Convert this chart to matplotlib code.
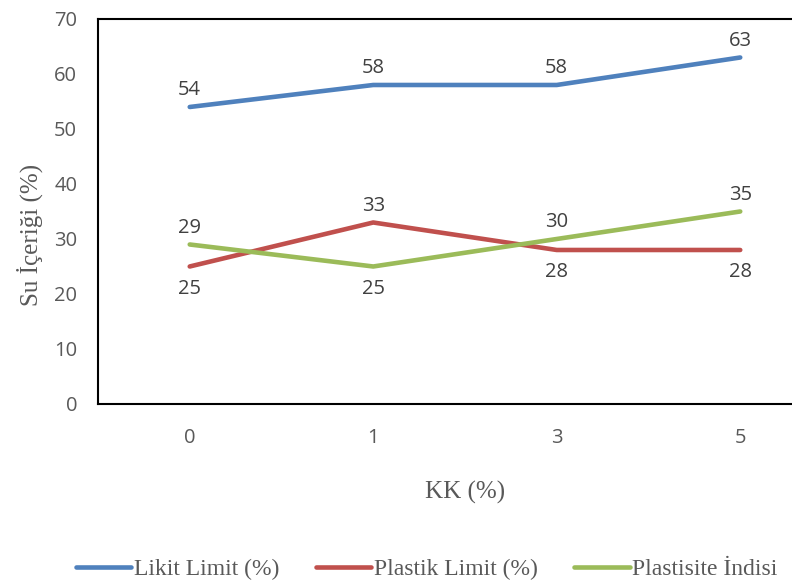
import matplotlib.pyplot as plt

# Veriler
kk = ['0', '1', '3', '5']
likit_limit = [54, 58, 58, 63]
plastik_limit = [25, 33, 28, 28]
plastisite_indisi = [29, 25, 30, 35]

# Etiket konumu: 1 = üstte, -1 = altta
likit_pos = [1, 1, 1, 1]
plastik_pos = [-1, 1, -1, -1]
plastisite_pos = [1, -1, 1, 1]

renkler = ['#4F81BD', '#C0504D', '#9BBB59']
sans = ['Open Sans', 'DejaVu Sans']
serif = ['Liberation Serif', 'DejaVu Serif']

fig = plt.figure(figsize=(7.92, 5.86), dpi=100)
ax = fig.add_axes([0.1237, 0.3106, 0.9268, 0.657])

x = list(range(len(kk)))
seriler = [
    ('Likit Limit (%)', likit_limit, likit_pos),
    ('Plastik Limit (%)', plastik_limit, plastik_pos),
    ('Plastisite İndisi', plastisite_indisi, plastisite_pos),
]
for (ad, degerler, konum), renk in zip(seriler, renkler):
    ax.plot(x, degerler, color=renk, lw=3.3, solid_capstyle='round', label=ad)
    for xi, yi, k in zip(x, degerler, konum):
        dy = 12 if k > 0 else -16
        ax.annotate(str(yi), (xi, yi), xytext=(0, dy), textcoords='offset points',
                    ha='center', va='center', fontsize=14.5, color='#404040', family=sans)

ax.set_xlim(-0.5, len(kk) - 0.5)
ax.set_ylim(0, 70)
ax.set_yticks(range(0, 71, 10))
ax.set_xticks(x)
ax.set_xticklabels(kk)
ax.tick_params(length=0, labelsize=14.5, labelcolor='#595959')
ax.tick_params(axis='y', pad=15)
ax.tick_params(axis='x', pad=17)
for lbl in ax.get_xticklabels() + ax.get_yticklabels():
    lbl.set_family(sans)
for s in ax.spines.values():
    s.set_linewidth(1.5)
    s.set_color('black')

ax.set_xlabel('KK (%)', fontsize=18, color='#595959', family=serif, labelpad=24)
fig.text(0.038, 0.599, 'Su İçeriği (%)', rotation=90, ha='center', va='center',
         fontsize=18, color='#595959', family=serif)

fig.legend(loc='center left', bbox_to_anchor=(76 / 792, 1 - 569 / 586), ncol=3,
           frameon=False, borderpad=0, borderaxespad=0, handlelength=2.35,
           handletextpad=0.1, columnspacing=1.55,
           prop={'family': serif, 'size': 17}, labelcolor='#595959')

fig.savefig('out.png', dpi=100)
